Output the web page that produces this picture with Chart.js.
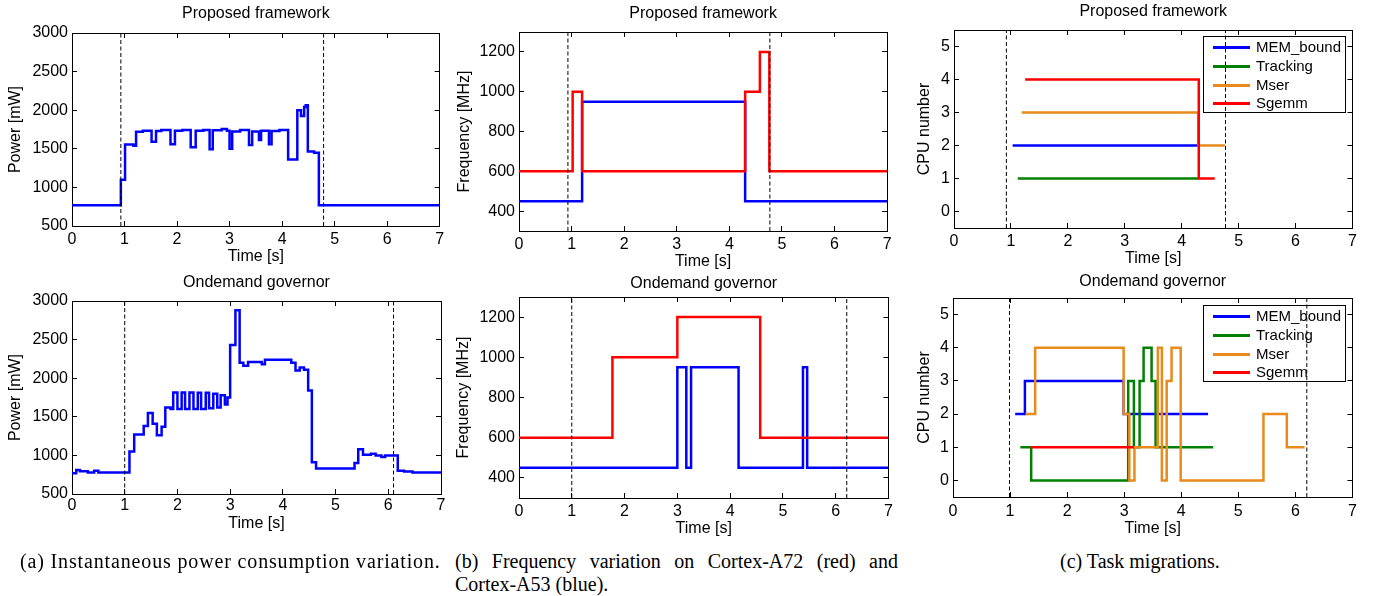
<!DOCTYPE html>
<html>
<head>
<meta charset="utf-8">
<script src="https://cdn.jsdelivr.net/npm/chart.js@4.4.1/dist/chart.umd.min.js"></script>
<style>
  body { margin: 0; background: #fff; width: 1378px; height: 596px; position: relative; overflow: hidden; }
  canvas { position: absolute; }
  .cap { position: absolute; font-family: "Liberation Serif", "Times New Roman", serif; font-size: 20px; line-height: 22.6px; color: #000; }
  .leg { position: absolute; border: 1px solid #000; width: 143px; height: 77px; box-sizing: border-box; padding-top: 1px;
         font-family: "Liberation Sans", Arial, sans-serif; font-size: 15px; color: #000; }
  .leg div { position: relative; height: 18.8px; line-height: 18.8px; padding-left: 52px; white-space: nowrap; }
  .leg span { position: absolute; left: 9px; top: 8px; width: 37px; height: 3px; }
</style>
</head>
<body>
<canvas id="a1"></canvas>
<canvas id="b1"></canvas>
<canvas id="c1"></canvas>
<canvas id="a2"></canvas>
<canvas id="b2"></canvas>
<canvas id="c2"></canvas>
<div class="leg" id="leg1" style="left:1203px; top:36px;"></div>
<div class="leg" id="leg2" style="left:1203px; top:305px;"></div>
<div class="cap" style="left:20px; top:550px; letter-spacing:0.85px;">(a) Instantaneous power consumption variation.</div>
<div class="cap" style="left:455px; top:550px; width:443px; text-align:justify;">(b) Frequency variation on Cortex-A72 (red) and Cortex-A53 (blue).</div>
<div class="cap" style="left:1060px; top:550px;">(c) Task migrations.</div>
<script>
// tick labels
var timeTicks = [0, 1, 2, 3, 4, 5, 6, 7];
var powerTicks = [500, 1000, 1500, 2000, 2500, 3000];
var freqTicks = [400, 600, 800, 1000, 1200];
var cpuTicks = [0, 1, 2, 3, 4, 5];

// (a) power, proposed framework (step changes: time, mW)
var powPropT = [0, 0.93, 1.01, 1.17, 1.22, 1.35, 1.515, 1.6, 1.7, 1.875, 1.96, 2.1, 2.26, 2.355, 2.5, 2.62, 2.68, 2.85, 2.95,
                3.0, 3.05, 3.2, 3.37, 3.43, 3.56, 3.6, 3.75, 3.8, 3.95, 4.115, 4.29, 4.36, 4.42, 4.45, 4.49, 4.61, 4.70, 7.0];
var powPropV = [770, 1100, 1555, 1540, 1720, 1735, 1590, 1730, 1745, 1560, 1735, 1745, 1520, 1735, 1745, 1495, 1740, 1755, 1735,
                1500, 1725, 1745, 1550, 1725, 1615, 1735, 1560, 1730, 1745, 1360, 2000, 1925, 2040, 2065, 1465, 1450, 770, 770];

// (a) power, ondemand governor
var powOndT = [0, 0.08, 0.15, 0.3, 0.42, 0.5, 1.09, 1.18, 1.36, 1.44, 1.53, 1.61, 1.7, 1.77, 1.87, 1.92, 2.0, 2.08, 2.145,
               2.228, 2.304, 2.386, 2.449, 2.537, 2.6, 2.68, 2.755, 2.82, 2.9, 2.95, 3.0, 3.1, 3.18, 3.25, 3.34, 3.6, 3.66,
               4.16, 4.24, 4.32, 4.4, 4.48, 4.55, 4.63, 5.36, 5.43, 5.52, 5.67, 5.76, 5.87, 5.94, 6.18, 6.3, 6.46, 7.0];
var powOndV = [770, 810, 795, 780, 800, 780, 1050, 1270, 1380, 1550, 1410, 1260, 1370, 1620, 1600, 1815, 1600, 1815, 1600,
               1815, 1600, 1810, 1600, 1810, 1610, 1800, 1620, 1780, 1660, 1750, 2430, 2880, 2200, 2160, 2210, 2180, 2240,
               2200, 2100, 2140, 2110, 1840, 910, 830, 900, 1080, 1010, 1020, 1000, 980, 1000, 800, 790, 780, 780];

// (b) frequency, MHz
var a72PropT = [0, 1.02, 1.2, 4.3, 4.58, 4.76, 7];
var a72PropV = [600, 1000, 600, 1000, 1200, 600, 600];
var a53PropT = [0, 1.2, 4.3, 7];
var a53PropV = [450, 950, 450, 450];
var a72OndT = [0, 1.77, 3.0, 4.57, 7];
var a72OndV = [600, 1000, 1200, 600, 600];
var a53OndT = [0, 3.0, 3.17, 3.26, 4.16, 5.38, 5.46, 7];
var a53OndV = [450, 950, 450, 950, 450, 950, 450, 450];

// (c) task migrations, CPU number
var taskNames = ["MEM_bound", "Tracking", "Mser", "Sgemm"];
var taskColors = ["#0000ff", "#008000", "#e88a1c", "#ff0000"];
var memPropT = [1.03, 4.29];            var memPropV = [2, 2];
var trkPropT = [1.12, 4.29];            var trkPropV = [1, 1];
var mserPropT = [1.19, 4.29, 4.76];     var mserPropV = [3, 2, 2];
var sgemmPropT = [1.25, 4.3, 4.58];     var sgemmPropV = [4, 1, 1];
var memOndT = [1.09, 1.26, 2.99, 4.47]; var memOndV = [2, 3, 2, 2];
var trkOndT = [1.18, 1.37, 3.07, 3.17, 3.27, 3.34, 3.48, 3.55, 4.56];
var trkOndV = [1, 0, 3, 1, 3, 4, 3, 1, 1];
var mserOndT = [1.27, 1.44, 2.99, 3.09, 3.18, 3.59, 3.66, 3.745, 3.83, 3.99, 5.44, 5.85, 6.16];
var mserOndV = [2, 4, 2, 0, 1, 4, 0, 3, 4, 0, 2, 1, 1];
var sgemmOndT = [1.36, 3.17];           var sgemmOndV = [1, 1];

// dashed markers (s)
var markA1 = [0.93, 4.79];
var markB1 = [0.93, 4.77];
var markC1 = [0.92, 4.77];
var markA2 = [1.0, 6.1];
var markB2 = [1.0, 6.21];
var markC2 = [0.99, 6.2];

Chart.defaults.font.family = '"Liberation Sans", Arial, Helvetica, sans-serif';
Chart.defaults.font.size = 16;
Chart.defaults.color = "#000";

function pts(ts, vs) {
  return ts.map(function (t, i) { return { x: t, y: vs[i] }; });
}

function line(ts, vs, color, order) {
  return { data: pts(ts, vs), borderColor: color, borderWidth: 2.5, stepped: true, pointRadius: 0,
           fill: false, order: order, xAxisID: "x", yAxisID: "y" };
}

function markers(list, lo, hi) {
  return list.map(function (t) {
    return { data: [{ x: t, y: lo }, { x: t, y: hi }], borderColor: "#000", borderWidth: 1, borderDash: [4, 2.5],
             pointRadius: 0, fill: false, order: 0, xAxisID: "x", yAxisID: "y" };
  });
}

function setTicks(vals) {
  return function (scale) { scale.ticks = vals.map(function (v) { return { value: v }; }); };
}

function panel(id, box, title, yTitle, yMin, yMax, yTicks, datasets) {
  var cl = Math.round(box.ylabX - 12);
  var ct = Math.round(box.titleY - 12);
  var cr = box.R + 12;
  var cb = Math.round(box.xlabY + 14);
  var cv = document.getElementById(id);
  cv.width = cr - cl;
  cv.height = cb - ct;
  cv.style.left = cl + "px";
  cv.style.top = ct + "px";
  var YW = box.L - cl, TH = box.T - ct, XH = cb - box.B;
  var titleTop = box.titleY - ct - 9.6;
  var tickGrid = { display: true, drawOnChartArea: false, drawTicks: true, tickLength: -5, tickColor: "#000", tickWidth: 1 };
  var border = { display: true, color: "#000", width: 1 };
  var label = function (v) { return String(v); };

  return new Chart(cv.getContext("2d"), {
    type: "line",
    data: { datasets: datasets },
    options: {
      responsive: false,
      animation: false,
      events: [],
      layout: { padding: { left: 0, top: 0, right: cr - box.R, bottom: 0 } },
      plugins: {
        legend: { display: false },
        tooltip: { enabled: false },
        title: { display: true, text: title, fullSize: false, color: "#000",
                 font: { size: 16, weight: "normal" },
                 padding: { top: titleTop, bottom: TH - titleTop - 19.2 } }
      },
      scales: {
        x: { type: "linear", position: "bottom", min: 0, max: 7, grid: tickGrid, border: border,
             afterBuildTicks: setTicks(timeTicks),
             ticks: { padding: box.tickY - box.B - 4.6, maxRotation: 0, autoSkip: false, callback: label },
             title: { display: true, text: "Time [s]", padding: { top: 0, bottom: cb - box.xlabY - 9.6 } },
             afterFit: function (s) { s.height = XH; } },
        x2: { type: "linear", position: "top", display: true, min: 0, max: 7, grid: tickGrid, border: border,
              afterBuildTicks: setTicks(timeTicks), ticks: { display: false },
              afterFit: function (s) { s.height = 0; } },
        y: { type: "linear", position: "left", min: yMin, max: yMax, grid: tickGrid, border: border,
             afterBuildTicks: setTicks(yTicks),
             ticks: { padding: 9, autoSkip: false, callback: label },
             title: { display: true, text: yTitle, padding: { top: box.ylabX - cl - 9.6, bottom: 0 } },
             afterFit: function (s) { s.width = YW; } },
        y2: { type: "linear", position: "right", display: true, min: yMin, max: yMax, grid: tickGrid, border: border,
              afterBuildTicks: setTicks(yTicks), ticks: { display: false },
              afterFit: function (s) { s.width = 0; } }
      }
    }
  });
}

panel("a1", { L: 72, R: 441, T: 33, B: 226, titleY: 14, tickY: 239.5, xlabY: 257, ylabX: 16 },
  "Proposed framework", "Power [mW]", 500, 3000, powerTicks,
  markers(markA1, 500, 3000).concat([line(powPropT, powPropV, "#0000ff", 1)]));

panel("a2", { L: 72, R: 441, T: 301, B: 494, titleY: 282.3, tickY: 505.3, xlabY: 523.3, ylabX: 16 },
  "Ondemand governor", "Power [mW]", 500, 3000, powerTicks,
  markers(markA2, 500, 3000).concat([line(powOndT, powOndV, "#0000ff", 1)]));

panel("b1", { L: 519, R: 889, T: 32, B: 231, titleY: 13.3, tickY: 245, xlabY: 261.5, ylabX: 464.5 },
  "Proposed framework", "Frequency [MHz]", 300, 1300, freqTicks,
  markers(markB1, 300, 1300).concat([line(a53PropT, a53PropV, "#0000ff", 2), line(a72PropT, a72PropV, "#ff0000", 1)]));

panel("b2", { L: 519, R: 890, T: 297, B: 498, titleY: 283.3, tickY: 511.7, xlabY: 528.3, ylabX: 464 },
  "Ondemand governor", "Frequency [MHz]", 300, 1300, freqTicks,
  markers(markB2, 300, 1300).concat([line(a53OndT, a53OndV, "#0000ff", 2), line(a72OndT, a72OndV, "#ff0000", 1)]));

panel("c1", { L: 954, R: 1354, T: 30, B: 228, titleY: 11.7, tickY: 241.7, xlabY: 258.5, ylabX: 925 },
  "Proposed framework", "CPU number", -0.5, 5.5, cpuTicks,
  markers(markC1, -0.5, 5.5).concat([
    line(memPropT, memPropV, taskColors[0], 4), line(trkPropT, trkPropV, taskColors[1], 3),
    line(mserPropT, mserPropV, taskColors[2], 2), line(sgemmPropT, sgemmPropV, taskColors[3], 1)]));

panel("c2", { L: 953, R: 1355, T: 298, B: 497, titleY: 281.7, tickY: 511.7, xlabY: 528.3, ylabX: 925 },
  "Ondemand governor", "CPU number", -0.5, 5.5, cpuTicks,
  markers(markC2, -0.5, 5.5).concat([
    line(memOndT, memOndV, taskColors[0], 4), line(trkOndT, trkOndV, taskColors[1], 3),
    line(mserOndT, mserOndV, taskColors[2], 2), line(sgemmOndT, sgemmOndV, taskColors[3], 1)]));

// legends for the task panels
["leg1", "leg2"].forEach(function (id) {
  var box = document.getElementById(id);
  taskNames.forEach(function (name, i) {
    var row = document.createElement("div");
    var sw = document.createElement("span");
    sw.style.background = taskColors[i];
    row.appendChild(sw);
    row.appendChild(document.createTextNode(name));
    box.appendChild(row);
  });
});
</script>
</body>
</html>
